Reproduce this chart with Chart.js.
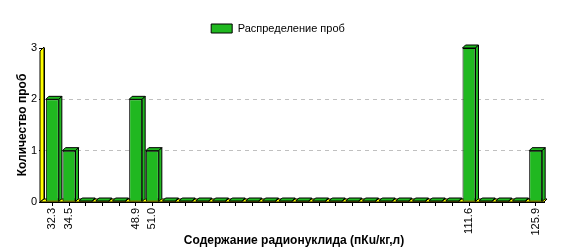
<!DOCTYPE html>
<html lang="ru">
<head>
<meta charset="UTF-8">
<title>Распределение проб</title>
<script src="https://cdn.jsdelivr.net/npm/chart.js"></script>
<style>
  * { margin: 0; padding: 0; }
  body { background: #fff; width: 561px; height: 249px; overflow: hidden; }
</style>
</head>
<body>
<canvas id="chart" width="561" height="249"></canvas>
<script>
// bins of the histogram, only bins with samples carry a label
const binLabels = [
  '32.3', '34.5', '', '', '', '48.9', '51.0',
  '', '', '', '', '', '', '', '', '', '', '', '', '', '', '', '', '', '',
  '111.6', '', '', '', '125.9'
];
const sampleCounts = [
  2, 1, 0, 0, 0, 2, 1,
  0, 0, 0, 0, 0, 0, 0, 0, 0, 0, 0, 0, 0, 0, 0, 0, 0, 0,
  3, 0, 0, 0, 1
];
const yMax = 3;

const seriesName = 'Распределение проб';
const xTitle = 'Содержание радионуклида (пКu/кг,л)';
const yTitle = 'Количество проб';

const barColor = '#20b820';
const depth = 3;

Chart.defaults.font.family = '"Liberation Sans", Arial, sans-serif';
Chart.defaults.font.size = 11;
Chart.defaults.color = '#000';

function poly(ctx, pts) {
  ctx.beginPath();
  ctx.moveTo(pts[0][0], pts[0][1]);
  for (let i = 1; i < pts.length; i++) ctx.lineTo(pts[i][0], pts[i][1]);
  ctx.closePath();
  ctx.fill();
  ctx.stroke();
}

// a bit more room between legend and plot
const legendGap = {
  id: 'legendGap',
  beforeLayout(chart) {
    const lg = chart.legend;
    if (lg && !lg._gapPatched) {
      const fit = lg.fit;
      lg.fit = function () { fit.call(this); this.height += 4; };
      lg._gapPatched = true;
    }
  }
};

// fake 3D: yellow wall + floor behind, side and top faces on each bar
const bar3d = {
  id: 'bar3d',
  beforeDatasetsDraw(chart) {
    const { ctx, chartArea: a } = chart;
    ctx.save();
    ctx.fillStyle = '#ffff00';
    ctx.strokeStyle = '#000';
    ctx.lineWidth = 1;
    poly(ctx, [[a.left - 4, a.bottom], [a.left - 4, a.top + 3], [a.left, a.top - 1], [a.left, a.bottom - depth]]);
    poly(ctx, [[a.left - 4, a.bottom], [a.right, a.bottom], [a.right + depth, a.bottom - depth], [a.left, a.bottom - depth]]);
    ctx.restore();
  },
  afterDatasetsDraw(chart) {
    const { ctx } = chart;
    const meta = chart.getDatasetMeta(0);
    ctx.save();
    ctx.fillStyle = barColor;
    ctx.strokeStyle = '#000';
    ctx.lineWidth = 1;
    meta.data.forEach(el => {
      const { x, y, base, width } = el.getProps(['x', 'y', 'base', 'width'], true);
      const l = x - width / 2, r = x + width / 2;
      poly(ctx, [[l, y], [l + depth, y - depth], [r + depth, y - depth], [r, y]]);
      poly(ctx, [[r, y], [r + depth, y - depth], [r + depth, base - depth], [r, base]]);
    });
    ctx.restore();
  }
};

new Chart(document.getElementById('chart'), {
  type: 'bar',
  data: {
    labels: binLabels,
    datasets: [{
      label: seriesName,
      data: sampleCounts,
      backgroundColor: barColor,
      borderColor: '#000',
      borderWidth: 1,
      borderSkipped: false,
      minBarLength: 1,
      barPercentage: 0.78,
      categoryPercentage: 1
    }]
  },
  options: {
    responsive: false,
    animation: false,
    layout: { padding: { top: 16, right: 17, left: 12, bottom: 0 } },
    plugins: {
      tooltip: { enabled: false },
      legend: {
        position: 'top',
        labels: { boxWidth: 21, boxHeight: 9, padding: 7, color: '#000' }
      }
    },
    scales: {
      x: {
        offset: true,
        afterFit(scale) { scale.height = 47; },
        grid: { drawOnChartArea: false, drawTicks: true, tickLength: 4, tickColor: '#000', offset: false },
        border: { display: true, color: '#000' },
        ticks: { autoSkip: false, maxRotation: 90, minRotation: 90, padding: 2, color: '#000' },
        title: { display: true, text: xTitle, font: { weight: 'bold', size: 12 }, padding: { top: 0, bottom: 1 } }
      },
      y: {
        min: 0,
        max: yMax,
        afterFit(scale) { scale.width = 32; },
        grid: {
          color: ctx => (ctx.tick && ctx.tick.value > 0 && ctx.tick.value < yMax) ? '#c0c0c0' : 'rgba(0,0,0,0)',
          tickColor: '#000',
          tickLength: 5
        },
        border: { display: true, color: '#000', dash: [4, 4] },
        ticks: { stepSize: 1, padding: 2, color: '#000' },
        title: { display: true, text: yTitle, font: { weight: 'bold', size: 12 }, padding: { top: 3, bottom: 0 } }
      }
    }
  },
  plugins: [legendGap, bar3d]
});
</script>
</body>
</html>
